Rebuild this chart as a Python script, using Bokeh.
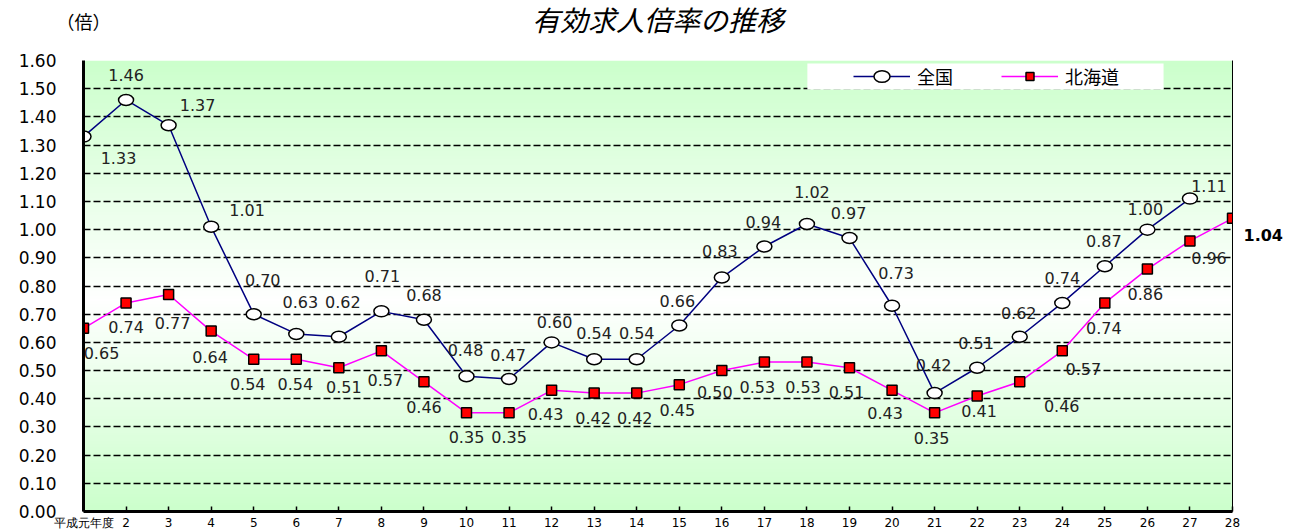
import numpy as np
from bokeh.plotting import figure
from bokeh.models import (ColumnDataSource, FixedTicker, NumeralTickFormatter, Range1d,
                          LinearAxis, Title, Label, Legend, LegendItem, BoxAnnotation)
from bokeh.core.properties import value
from bokeh.embed import file_html
from bokeh.resources import INLINE

# ---------------- data ----------------
years = list(range(1, 29))
year_labels = ["平成元年度"] + [str(y) for y in range(2, 29)]
zenkoku_years = list(range(1, 28))
zenkoku = [1.33, 1.46, 1.37, 1.01, 0.70, 0.63, 0.62, 0.71, 0.68, 0.48,
           0.47, 0.60, 0.54, 0.54, 0.66, 0.83, 0.94, 1.02, 0.97, 0.73,
           0.42, 0.51, 0.62, 0.74, 0.87, 1.00, 1.11]
hokkaido = [0.65, 0.74, 0.77, 0.64, 0.54, 0.54, 0.51, 0.57, 0.46, 0.35,
            0.35, 0.43, 0.42, 0.42, 0.45, 0.50, 0.53, 0.53, 0.51, 0.43,
            0.35, 0.41, 0.46, 0.57, 0.74, 0.86, 0.96, 1.04]
y_ticks = [0.0, 0.1, 0.2, 0.3, 0.4, 0.5, 0.6, 0.7, 0.8, 0.9,
           1.0, 1.1, 1.2, 1.3, 1.4, 1.5, 1.6]
title_text = "有効求人倍率の推移"
unit_text = "（倍）"
series_names = ["全国", "北海道"]

# label offsets (screen px, +down)
zk_dx = [35, 0, 29, 36, 9, 4, 4, 1, 0, -1, -1, 3, 0, 0, -2, -2, -1, 5, -1, 4,
         -1, -1, -1, 0, -1, -2, 19]
zk_dy = [21, -25, -20, -17, -34, -32, -35, -35, -25, -26, -24, -20, -26, -26, -24,
         -27, -25, -32, -25, -33, -28, -25, -24, -25, -25, -21, -13]
hk_dx = [18, 0, 4, -1, -6, -1, 5, 4, 0, 0, 0, -6, -1, -2, -2, -7, -7, -4, -3, -7,
         -3, 2, 42, 21, -1, -2, 19]
hk_dy = [25, 24, 29, 26, 25, 25, 19, 29, 25, 24, 24, 24, 25, 25, 25, 21, 25, 25,
         24, 23, 25, 15, 24, 18, 25, 25, 17]

NUM_FONT = "DejaVu Sans"
CJK_FONT = "Noto Sans CJK JP"
MIX_FONT = "DejaVu Sans, Noto Sans CJK JP"
PX_PER_UNIT = 452 / 1.6

p = figure(width=1289, height=532, x_range=Range1d(1, 28), y_range=Range1d(0, 1.6),
           output_backend="svg", toolbar_location=None, title=None,
           min_border_left=83, min_border_right=57, min_border_top=60, min_border_bottom=20)
p.background_fill_color = "white"
p.border_fill_color = "white"
p.outline_line_color = None

# gradient background (green - white - green)
n = 161
ys = np.linspace(0, 1.6, n)
t = np.where(ys < 0.75, (0.75 - ys) / 0.75, (ys - 0.75) / 0.85)
comp = (255 - t * (255 - 204)).astype(np.uint8)
img = np.zeros((n, 2), dtype=np.uint32)
view = img.view(dtype=np.uint8).reshape((n, 2, 4))
view[:, :, 0] = comp[:, None]
view[:, :, 1] = 255
view[:, :, 2] = comp[:, None]
view[:, :, 3] = 255
p.image_rgba(image=[img], x=1, y=0, dw=27, dh=1.6, level="image")

# grid
p.xgrid.visible = False
p.ygrid.ticker = FixedTicker(ticks=y_ticks)
p.ygrid.grid_line_color = "black"
p.ygrid.grid_line_dash = "7 3"
p.ygrid.grid_line_width = 1.4

# axes
p.xaxis.ticker = FixedTicker(ticks=years)
p.xaxis.major_label_overrides = {y: lab for y, lab in zip(years, year_labels)}
p.xaxis.major_label_text_font = NUM_FONT
p.xaxis.major_label_text_font_size = "12px"
p.xaxis.major_label_text_color = "black"
p.xaxis.major_tick_in = 5
p.xaxis.major_tick_out = 0
p.xaxis.major_tick_line_width = 1.5
p.xaxis.major_tick_line_color = "black"
p.xaxis.minor_tick_line_color = None
p.xaxis.axis_line_width = 3
p.xaxis.axis_line_color = "black"
p.xaxis.major_label_standoff = 4

p.yaxis.ticker = FixedTicker(ticks=y_ticks)
p.yaxis.formatter = NumeralTickFormatter(format="0.00")
p.yaxis.major_label_text_font = NUM_FONT
p.yaxis.major_label_text_font_size = "17px"
p.yaxis.major_label_text_color = "black"
p.yaxis.major_tick_in = 0
p.yaxis.major_tick_out = 0
p.yaxis.minor_tick_line_color = None
p.yaxis.axis_line_width = 3
p.yaxis.axis_line_color = "black"
p.yaxis.major_label_standoff = 27

# right axis: frame border + label of the last Hokkaido value
last_tick = round(hokkaido[-1] - 17 / PX_PER_UNIT, 3)
rax = LinearAxis(ticker=FixedTicker(ticks=[last_tick]),
                 major_label_overrides={last_tick: f"{hokkaido[-1]:.2f}"},
                 axis_line_color="black", axis_line_width=1,
                 major_tick_in=0, major_tick_out=0, minor_tick_line_color=None,
                 major_label_standoff=11, major_label_text_font=NUM_FONT,
                 major_label_text_font_size="16px", major_label_text_font_style="bold",
                 major_label_text_color="black")
p.add_layout(rax, "right")

# unit label (in the top panel, so it is not clipped to the frame) and title
p.add_layout(Label(x=1, y=1.6 + 38 / PX_PER_UNIT, text=unit_text,
                   text_align="center", text_baseline="middle",
                   text_font=MIX_FONT, text_font_size="18px", text_color="black"), "above")
p.add_layout(Title(text=title_text, align="center", vertical_align="top", text_font=MIX_FONT,
                   text_font_size="28px", text_font_style="italic", text_color="black",
                   standoff=0), "above")

# legend white box
p.add_layout(BoxAnnotation(left=18.01, right=26.38, top=1.589, bottom=1.497,
                           fill_color="white", fill_alpha=1, line_color=None))

# series
zk_src = ColumnDataSource(dict(x=zenkoku_years, y=zenkoku))
hk_src = ColumnDataSource(dict(x=years, y=hokkaido))

hk_line = p.line("x", "y", source=hk_src, line_color="#FF00FF", line_width=1.5)
hk_mark = p.scatter("x", "y", source=hk_src, marker="square", size=10,
                    fill_color="#FF0000", line_color="black", line_width=1.5)
zk_line = p.line("x", "y", source=zk_src, line_color="#000080", line_width=1.5)
zk_mark = p.ellipse("x", "y", source=zk_src, width=15, height=11,
                    width_units="screen", height_units="screen",
                    fill_color="white", line_color="black", line_width=1.5)

# data labels
zk_lab = ColumnDataSource(dict(x=zenkoku_years, y=zenkoku,
                               t=[f"{v:.2f}" for v in zenkoku], dx=zk_dx, dy=zk_dy))
hk_lab = ColumnDataSource(dict(x=years[:-1], y=hokkaido[:-1],
                               t=[f"{v:.2f}" for v in hokkaido[:-1]],
                               dx=hk_dx, dy=hk_dy))
for src in (zk_lab, hk_lab):
    p.text("x", "y", text="t", source=src, x_offset="dx", y_offset="dy",
           text_align="center", text_baseline="middle",
           text_font=value(NUM_FONT), text_font_size="16px", text_color="#222222")

legend = Legend(items=[LegendItem(label=series_names[0], renderers=[zk_line, zk_mark]),
                       LegendItem(label=series_names[1], renderers=[hk_line, hk_mark])],
                orientation="horizontal", location=(770, 422), glyph_width=57,
                glyph_height=20, label_standoff=7, spacing=48, padding=9, margin=0,
                background_fill_alpha=0, border_line_color=None,
                label_text_font=CJK_FONT, label_text_font_size="18px",
                label_text_color="black")
p.add_layout(legend)

open("out.html", "w").write(file_html(p, INLINE))
